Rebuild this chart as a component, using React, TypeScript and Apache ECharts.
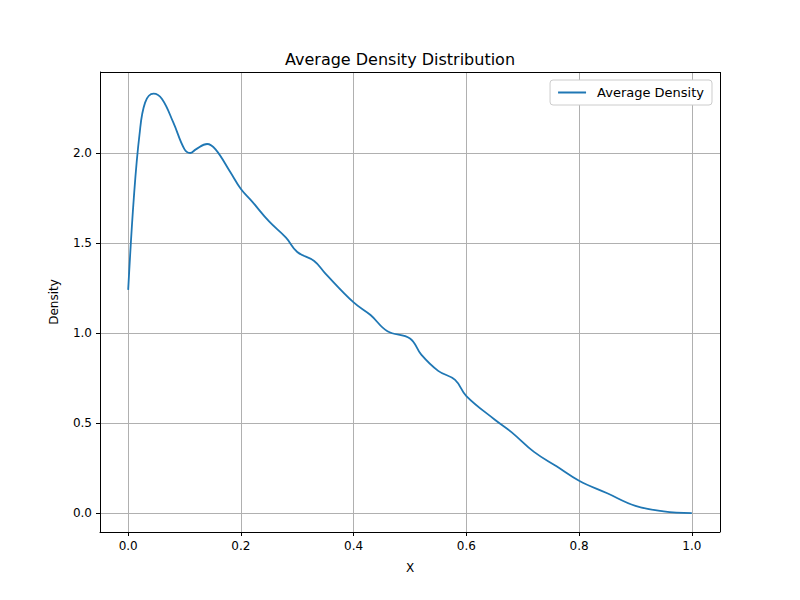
import React, { useEffect, useRef } from 'react';
import * as echarts from 'echarts';

// density curve
const xs = [0, 0.01, 0.02, 0.03, 0.045, 0.06, 0.08, 0.1, 0.11, 0.12, 0.14, 0.155, 0.18, 0.2, 0.22, 0.25, 0.28, 0.3, 0.33, 0.35, 0.4, 0.43, 0.46, 0.5, 0.52, 0.55, 0.58, 0.6, 0.65, 0.68, 0.72, 0.76, 0.8, 0.85, 0.9, 0.95, 1.0];
const ys = [1.24, 1.75, 2.1, 2.28, 2.33, 2.3, 2.17, 2.02, 2.0, 2.02, 2.05, 2.02, 1.9, 1.8, 1.73, 1.62, 1.53, 1.45, 1.4, 1.33, 1.17, 1.1, 1.01, 0.97, 0.88, 0.79, 0.74, 0.65, 0.52, 0.45, 0.34, 0.26, 0.18, 0.11, 0.04, 0.01, 0.0];
const xTicks = [0, 0.2, 0.4, 0.6, 0.8, 1.0];
const yTicks = [0, 0.5, 1.0, 1.5, 2.0];

const font = 'DejaVu Sans';

const App: React.FC = () => {
  const ref = useRef<HTMLDivElement>(null);

  useEffect(() => {
    if (!ref.current) return;
    const chart = echarts.init(ref.current, null, { renderer: 'svg' });
    const axisCommon = {
      axisLine: { show: true, onZero: false, lineStyle: { color: '#000', width: 1 } },
      axisTick: { show: true, inside: false, length: 4, lineStyle: { color: '#000' } },
      splitLine: { show: true, lineStyle: { color: '#b0b0b0', width: 1 } },
      nameTextStyle: { fontFamily: font, fontSize: 12, color: '#000' },
    };
    chart.setOption({
      animation: false,
      textStyle: { fontFamily: font },
      title: {
        text: 'Average Density Distribution',
        left: 'center',
        top: 46,
        textStyle: { fontFamily: font, fontSize: 16, fontWeight: 'normal', color: '#000' },
      },
      legend: {
        data: ['Average Density'],
        right: 88,
        top: 80,
        orient: 'vertical',
        backgroundColor: '#fff',
        borderColor: '#ccc',
        borderWidth: 1,
        borderRadius: 3,
        padding: [6, 8],
        itemWidth: 28,
        itemHeight: 2,
        itemGap: 10,
        icon: 'rect',
        textStyle: { fontFamily: font, fontSize: 13, color: '#000', padding: [0, 0, 0, 6] },
      },
      grid: { left: 100, top: 72, width: 620, height: 460 },
      xAxis: {
        type: 'value',
        min: -0.05,
        max: 1.05,
        name: 'X',
        nameLocation: 'middle',
        nameGap: 30,
        ...axisCommon,
        axisTick: { ...axisCommon.axisTick, customValues: xTicks },
        axisLabel: { customValues: xTicks, fontFamily: font, fontSize: 12, color: '#000', formatter: (v: number) => v.toFixed(1) },
      },
      yAxis: {
        type: 'value',
        min: -0.105,
        max: 2.45,
        name: 'Density',
        nameLocation: 'middle',
        nameGap: 40,
        ...axisCommon,
        axisTick: { ...axisCommon.axisTick, customValues: yTicks },
        axisLabel: { customValues: yTicks, fontFamily: font, fontSize: 12, color: '#000', formatter: (v: number) => v.toFixed(1) },
      },
      series: [
        {
          name: 'Average Density',
          type: 'line',
          smooth: 0.4,
          showSymbol: false,
          data: xs.map((x, i) => [x, ys[i]]),
          lineStyle: { color: '#1f77b4', width: 1.8 },
          itemStyle: { color: '#1f77b4' },
        },
        {
          // box on top and right of the plot area
          type: 'line',
          data: [],
          markLine: {
            silent: true,
            symbol: 'none',
            label: { show: false },
            lineStyle: { color: '#000', type: 'solid', width: 1 },
            data: [{ xAxis: 1.05 }, { yAxis: 2.45 }],
          },
        },
      ],
    });
    return () => chart.dispose();
  }, []);

  return <div ref={ref} style={{ width: 800, height: 600, margin: -8 }} />;
};

export default App;
